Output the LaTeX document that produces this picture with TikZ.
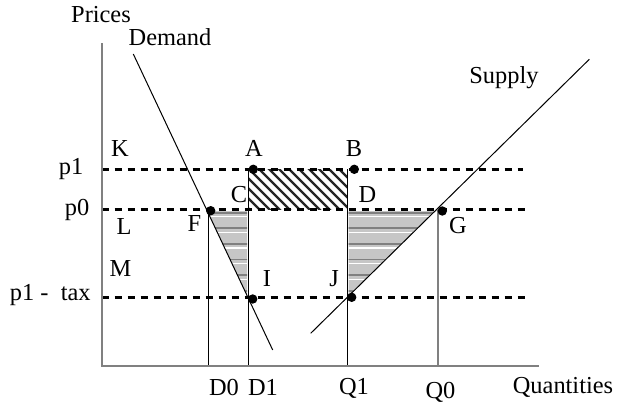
\documentclass[tikz,border=0pt]{standalone}
\usepackage{fontspec}
\setmainfont{Liberation Serif}
\begin{document}
\begin{tikzpicture}[x=0.5pt,y=-0.5pt,font=\fontsize{12.2}{14}\selectfont,
  lbl/.style={anchor=base,inner sep=0pt},
  price/.style={dash pattern=on 3.7pt off 2.8pt,line width=1.5pt},
  dot/.style={circle,fill=black,inner sep=0pt,minimum size=4.7pt}]
\useasboundingbox (0,0) rectangle (621,402);
\coordinate (A) at (253.3,169.3); \coordinate (B) at (354.3,169.3);
\coordinate (F) at (210.7,210.7); \coordinate (G) at (442.3,211);
\coordinate (I) at (252.7,299);   \coordinate (J) at (351.7,297.3);
% striped triangles
\begin{scope}
\clip (207.2,211)--(247,211)--(247,295.4)--cycle (348.5,211)--(435,211)--(348.5,296.1)--cycle;
\fill[gray!45] (200,205) rectangle (440,300);
\foreach \y in {212.7,228.3,243.9,259.5,275.1,290.7}{
  \draw[black!50,line width=0.9pt] (200,\y)--(440,\y);
  \draw[white,line width=0.6pt] (200,\y+4)--(440,\y+4);}
\end{scope}
% hatched rectangle
\begin{scope}
\clip (249,169.3) rectangle (347,209.3);
\foreach \x in {190,200,...,350}{\draw[black!85,line width=1.1pt] (\x,160)--(\x+60,220);}
\end{scope}
% price levels
\draw[price] (101.7,169.3)--(523,169.3);
\draw[price] (101.7,209.3)--(528,209.3);
\draw[price] (101.7,297.3)--(527,297.3);
% quantities
\draw[line width=0.5pt] (208.5,210)--(208.5,365);
\draw[line width=0.5pt] (248.7,169.3)--(248.7,365);
\draw[line width=0.5pt] (347,169.3)--(347,365);
\draw[gray,line width=0.8pt] (437.7,210)--(437.7,365);
% axes
\draw[gray,line width=1pt] (101.7,43)--(101.7,365.5)--(539,365.5);
% curves
\draw[line width=0.5pt] (133.3,54)--(272.7,350);
\draw[line width=0.5pt] (310.7,333.3)--(589.3,59.3);
\foreach \p in {A,B,F,G,I,J}{\node[dot] at (\p) {};}
% labels
\node[lbl] at (101,22.7) {Prices};
\node[lbl] at (170,45.7) {Demand};
\node[lbl] at (504,83) {Supply};
\node[lbl] at (563,393) {Quantities};
\node[lbl] at (224,395) {D0}; \node[lbl] at (263,395) {D1};
\node[lbl] at (354,394) {Q1}; \node[lbl] at (440.5,398) {Q0};
\node[lbl] at (71,174) {p1}; \node[lbl] at (77,215) {p0};
\node[lbl] at (50.3,300) {p1 -\ \ tax};
\node[lbl] at (120,156.7) {K}; \node[lbl] at (124,234) {L}; \node[lbl] at (120.5,276.7) {M};
\node[lbl] at (254,156) {A}; \node[lbl] at (354,156) {B};
\node[lbl] at (239,202.7) {C}; \node[lbl] at (367.5,202.7) {D};
\node[lbl] at (194.5,231.7) {F}; \node[lbl] at (458,233.3) {G};
\node[lbl] at (267,286) {I}; \node[lbl] at (334,286) {J};
\end{tikzpicture}
\end{document}
